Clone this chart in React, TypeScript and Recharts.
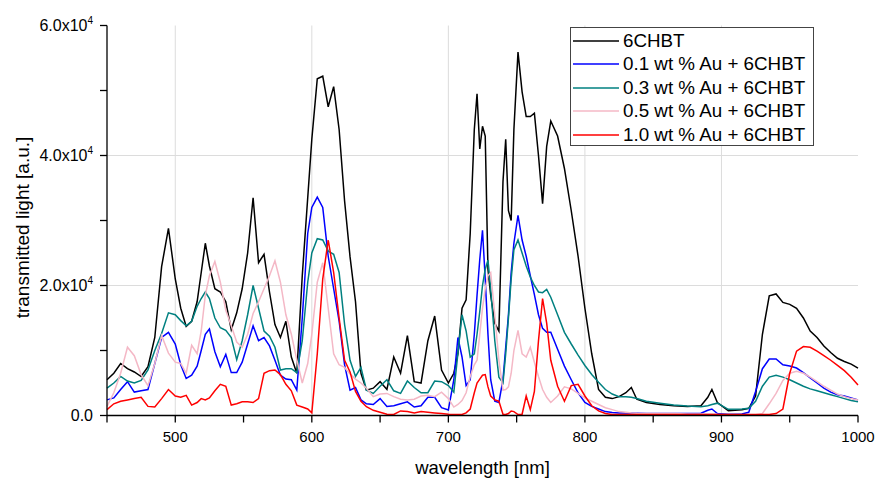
import React from 'react';
import { LineChart, Line, XAxis, YAxis, ReferenceLine, Legend } from 'recharts';

// wavelength grid [nm] – finer where the spectra have sharp peaks
const wavelength = [
    450, 455, 460, 465, 470, 475, 480, 485, 490, 495, 500,
    504, 508, 512, 516, 519, 522, 525, 529, 533, 537, 541, 545, 549, 553, 557, 561, 565, 569, 573, 577, 581, 585, 589, 593, 597,
    600, 604, 608, 612, 616, 620, 624, 628, 632, 636, 640, 645, 650, 655, 660, 665, 670, 675, 680, 685, 690, 695, 700,
    704, 707, 710, 713, 716, 719, 721, 723, 725, 727, 729, 731, 734, 737, 740, 742, 744, 746, 748, 751, 754, 757, 760, 763, 766, 769, 772, 775,
    780, 785, 790, 795, 800, 805, 810, 815, 820, 825, 830,
    834, 838, 845, 855, 865, 875, 885, 890, 893, 897, 905, 915,
    920, 925, 930, 935, 940, 945, 950, 955, 960, 965, 970, 975, 980, 985, 990, 995, 1000,
];

const chbt = [
    5500, 6500, 8000, 7200, 6700, 6000, 7500, 12000, 22900, 28800, 21000,
    16500, 13700, 14500, 17500, 22000, 26500, 23000, 19500, 19000, 17500, 13200, 15800, 19500, 25000, 33500, 23500, 24800, 19000, 14000, 12000, 14500, 9000, 6500, 21500, 33500,
    42500, 51800, 52200, 47500, 50600, 44000, 33000, 24400, 17500, 6500, 3900, 4200, 5200, 4000, 9000, 6500, 12300, 5200, 5000, 11500, 15300, 7000, 5000,
    6500, 9500, 16500, 17800, 28000, 44000, 49500, 41000, 44500, 43000, 22500, 18500, 14200, 13000, 36000, 42500, 31500, 30000, 44000, 55900, 49800, 46000, 46000, 46500, 40000, 32600, 41400, 45300,
    43000, 38000, 31500, 24500, 16500, 9500, 4000, 2800, 2600, 2900, 3500,
    4300, 2500, 2000, 1700, 1500, 1400, 1500, 2800, 4000, 2000, 750, 900,
    1100, 3000, 12500, 18400, 18700, 17400, 17100, 16500, 15000, 13000, 12000, 10700, 9700, 8800, 8300, 7900, 7300,
];

const au01 = [
    2400, 2700, 4000, 5200, 3600, 3800, 4000, 8000, 12000, 12800, 11000,
    7800, 5700, 6200, 7600, 10000, 12500, 13300, 9800, 7500, 9400, 6600, 6600, 8200, 11000, 13800, 11500, 12000, 10700, 8500, 6200, 5600, 5500, 3900, 15000, 28000,
    32000, 33600, 32000, 24500, 19500, 14500, 7800, 3900, 4300, 2400, 1800, 1700, 2600, 1400, 1500, 1800, 2100, 1300, 1500, 2800, 2800, 1200, 850,
    5500, 12000, 9000, 4600, 5500, 12500, 18500, 24000, 28500, 21000, 12500, 5500, 2200, 2000, 5500, 10500, 15500, 22000, 26500, 30800, 27000, 24500, 21500, 18600, 15500, 13400, 12800, 12800,
    10200, 7600, 5500, 3500, 2000, 1400, 1000, 600, 450, 400, 400,
    350, 350, 300, 300, 300, 300, 350, 800, 1000, 300, 200, 250,
    500, 3700, 7200, 8700, 8700, 7800, 7600, 7300, 6600, 5800, 5000, 4200, 3600, 3200, 3000, 2700, 2400,
];

const au03 = [
    4200, 5000, 6000, 5300, 5000, 5400, 7000, 10000, 12600, 15800, 15500,
    14600, 13800, 14500, 16800, 18000, 19000, 18000, 15000, 13500, 13100, 12000, 8600, 11500, 15500, 20000, 16500, 13000, 12200, 10500, 7000, 7200, 7200, 6600, 11500, 20500,
    25000, 27200, 27000, 25300, 24800, 22000, 14000, 8500, 6000, 7400, 3900, 3400, 4500, 5500, 3800, 3400, 5300, 4300, 3500, 3500, 5300, 5200, 4600,
    3600, 9600, 15500, 13000, 9000, 9500, 12500, 16000, 20000, 22500, 23900, 19500, 11500, 5900, 5000, 9500, 15000, 21000, 25500, 27000, 25000, 23000, 21300, 20000, 19000, 18900, 19400, 18200,
    15500, 12800, 11000, 9300, 7700, 6300, 5100, 4000, 3300, 2900, 2900,
    2800, 2600, 2200, 1900, 1600, 1450, 1350, 1500, 1700, 1900, 950, 1000,
    1100, 2200, 4500, 5900, 6200, 5900, 5500, 5000, 4500, 4100, 3800, 3500, 3200, 2900, 2600, 2300, 2100,
];

const au05 = [
    1400, 3500, 6500, 10500, 9200, 6300, 4600, 8000, 12300, 9600, 8200,
    8000, 6500, 10800, 9500, 13000, 18500, 21500, 23700, 20500, 16200, 13800, 11300, 10500, 12500, 15700, 17500, 19500, 21500, 23800, 20500, 15500, 12500, 8600, 5000, 8000,
    12500, 20500, 23500, 16500, 9500, 7800, 7400, 6400, 5600, 5000, 4200, 2900, 3300, 3400, 2900, 2500, 2400, 2500, 3000, 3100, 2900, 3600, 2600,
    1300, 1700, 2300, 3500, 6000, 7800, 8500, 12500, 16500, 19500, 21500, 22000, 15500, 8500, 3900, 4000, 4400, 6500, 10000, 13100, 9500, 9000, 10500, 8200, 6000, 4000, 2800, 2000,
    3000, 4400, 4100, 3400, 2700, 2200, 1700, 1200, 900, 600, 500,
    400, 350, 300, 300, 300, 250, 250, 250, 250, 200, 150, 100,
    100, 100, 300, 1800, 3400, 5400, 6500, 6800, 6500, 5900, 5200, 4500, 3900, 3300, 2900, 2600, 2400,
];

const au10 = [
    900, 1800, 2200, 2400, 2600, 2800, 1400, 1300, 2600, 4000, 3000,
    2800, 3100, 1600, 2000, 2600, 2400, 2700, 3800, 4800, 4500, 1600, 1800, 2100, 2100, 2000, 2600, 6500, 6900, 7000, 6300, 4800, 3800, 1600, 1300, 1000,
    400, 9500, 21000, 27000, 22000, 15000, 8500, 6700, 3700, 2200, 1350, 800, 500, 200, 150, 700, 600, 400, 600, 500, 400, 300, 200,
    150, 150, 150, 400, 1000, 3500, 5000, 5600, 6200, 6300, 4400, 3000, 2400, 2200, 200, 150, 300, 700, 600, 150, 200, 3000, 900, 3700, 11500, 18000, 14200, 8500,
    4500, 2200, 4600, 4800, 3000, 1500, 700, 300, 150, 150, 150,
    150, 150, 150, 150, 150, 150, 150, 150, 150, 150, 150, 150,
    150, 150, 150, 150, 300, 1000, 6500, 9900, 10600, 10500, 9900, 9200, 8500, 7700, 6900, 5900, 4700,
];

const series = [
    { key: 'chbt', name: '6CHBT', color: '#000000' },
    { key: 'au01', name: '0.1 wt % Au + 6CHBT', color: '#0000ff' },
    { key: 'au03', name: '0.3 wt % Au + 6CHBT', color: '#008080' },
    { key: 'au05', name: '0.5 wt % Au + 6CHBT', color: '#f4b8c6' },
    { key: 'au10', name: '1.0 wt % Au + 6CHBT', color: '#ff0000' },
];

const xTicks = [450, 500, 550, 600, 650, 700, 750, 800, 850, 900, 950, 1000];
const yTicks = [0, 10000, 20000, 30000, 40000, 50000, 60000];
const gridX = [500, 600, 700, 800, 900];
const gridY = [20000, 40000];

const data = wavelength.map((w, i) => ({
    w,
    chbt: chbt[i],
    au01: au01[i],
    au03: au03[i],
    au05: au05[i],
    au10: au10[i],
}));

const font = '"Liberation Sans", Arial, sans-serif';

const XTick = ({ x, y, payload }: any) => {
    if (payload.value % 100 !== 0) return null;
    return (
        <text x={x} y={y} dy={17} textAnchor="middle" fontFamily={font} fontSize={15} fill="#000">
            {payload.value}
        </text>
    );
};

const YTick = ({ x, y, payload }: any) => {
    const v = payload.value;
    if (v % 20000 !== 0) return null;
    if (v === 0) {
        return (
            <text x={x - 5} y={y + 5.5} textAnchor="end" fontFamily={font} fontSize={16} fill="#000">
                0.0
            </text>
        );
    }
    return (
        <text x={x - 5} y={y + 5.5} textAnchor="end" fontFamily={font} fontSize={16} fill="#000">
            <tspan>{(v / 10000).toFixed(1)}x10</tspan>
            <tspan dy={-7} fontSize={10}>4</tspan>
        </text>
    );
};

const YLabel = ({ viewBox }: any) => {
    const cx = 22;
    const cy = (viewBox ? viewBox.y + viewBox.height / 2 : 220) + 7;
    return (
        <text x={cx} y={cy} transform={`rotate(-90 ${cx} ${cy})`} textAnchor="middle" dominantBaseline="central" fontFamily={font} fontSize={19} fill="#000">
            transmitted light [a.u.]
        </text>
    );
};

const LegendBox = () => (
    <div
        style={{
            width: 244,
            height: 119,
            boxSizing: 'border-box',
            border: '1px solid #444',
            background: '#fff',
            paddingTop: 1,
            paddingLeft: 2,
            fontFamily: font,
            fontSize: 18.8,
            color: '#000',
        }}
    >
        {series.map((s) => (
            <div key={s.key} style={{ display: 'flex', alignItems: 'center', height: 23.5, whiteSpace: 'nowrap' }}>
                <svg width={46} height={4} style={{ display: 'block' }}>
                    <line x1={0} x2={46} y1={2} y2={2} stroke={s.color} strokeWidth={1.6} />
                </svg>
                <span style={{ marginLeft: 4 }}>{s.name}</span>
            </div>
        ))}
    </div>
);

export default function App() {
    return (
        <div style={{ position: 'absolute', left: 0, top: 0, background: '#fff' }}>
            <LineChart width={877} height={478} data={data} margin={{ top: 25.5, right: 19, left: 0, bottom: 0 }}>
                {gridX.map((v) => (
                    <ReferenceLine key={`gx-${v}`} x={v} stroke="#dcdcdc" strokeWidth={1} />
                ))}
                {gridY.map((v) => (
                    <ReferenceLine key={`gy-${v}`} y={v} stroke="#dcdcdc" strokeWidth={1} />
                ))}
                <XAxis
                    dataKey="w"
                    type="number"
                    domain={[450, 1000]}
                    ticks={xTicks}
                    tick={<XTick />}
                    tickSize={7}
                    height={62.5}
                    stroke="#000"
                    strokeWidth={1.3}
                    label={{ value: 'wavelength [nm]', position: 'insideBottom', offset: 4, fontFamily: font, fontSize: 18.5, fill: '#000' }}
                />
                <YAxis
                    type="number"
                    domain={[0, 60000]}
                    ticks={yTicks}
                    tick={<YTick />}
                    tickSize={7}
                    width={107}
                    stroke="#000"
                    strokeWidth={1.3}
                    label={<YLabel />}
                />
                {series.map((s) => (
                    <Line
                        key={s.key}
                        type="linear"
                        dataKey={s.key}
                        name={s.name}
                        stroke={s.color}
                        strokeWidth={1.5}
                        dot={false}
                        isAnimationActive={false}
                    />
                ))}
                <Legend
                    layout="vertical"
                    align="center"
                    verticalAlign="middle"
                    content={<LegendBox />}
                    wrapperStyle={{ position: 'absolute', left: 570, top: 27, width: 244, height: 119 }}
                />
            </LineChart>
        </div>
    );
}
